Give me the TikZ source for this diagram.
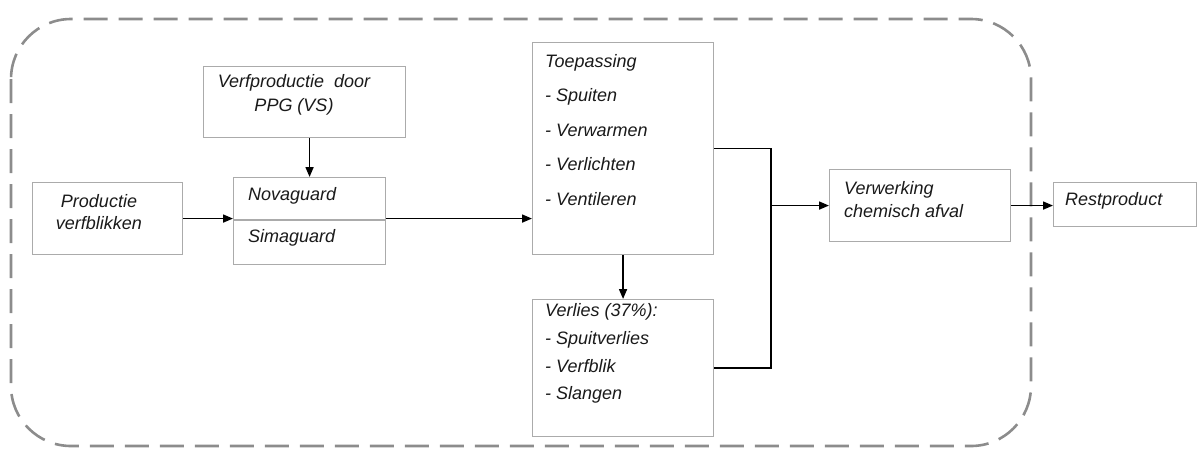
\documentclass[tikz,border=0pt]{standalone}
\usepackage{fontspec}
\setmainfont{Liberation Sans}
\usetikzlibrary{arrows.meta}
\definecolor{boxgray}{HTML}{ABABAB}
\definecolor{dashgray}{HTML}{8C8C8C}
\definecolor{txt}{HTML}{1A1A1A}
\begin{document}
\begin{tikzpicture}[x=1pt,y=-1pt,
  box/.style={draw=boxgray,line width=1.1pt,inner sep=0pt,anchor=north west,fill=white},
  lbl/.style={inner sep=0pt,text=txt,font=\fontsize{18}{22}\selectfont\itshape},
  arr/.style={line width=1.7pt,-{Triangle[length=10pt,width=8pt]}},
  con/.style={line width=1.7pt},
  border/.style={draw=dashgray,line width=2.6pt,dash pattern=on 24pt off 11pt,rounded corners=60pt}]
\useasboundingbox (0,0) rectangle (1201,448);
\draw[border] (11,19) rectangle (1031,446);
% boxes
\node[box,minimum width=150pt,minimum height=72pt] (prod) at (32,182) {};
\node[box,minimum width=202pt,minimum height=71pt] (ppg) at (203,66) {};
\node[box,minimum width=152pt,minimum height=87pt] (nova) at (233,177) {};
\draw[draw=boxgray,line width=1.1pt] (nova.west |- 0,220) coordinate (ndl) -- (nova.east |- 0,220) coordinate (ndr);
\node[box,minimum width=181pt,minimum height=212pt] (toep) at (532,42) {};
\node[box,minimum width=181pt,minimum height=137pt] (verl) at (532,299) {};
\node[box,minimum width=181pt,minimum height=72pt] (verw) at (829,169) {};
\node[box,minimum width=143pt,minimum height=44pt] (rest) at (1053,182) {};
% texts
\node[lbl,align=center] (prodt) at (99,212) {Productie\\verfblikken};
\node[lbl,align=center,font=\fontsize{18}{24}\selectfont\itshape] (ppgt) at (294,95) {Verfproductie\ \ door\\PPG (VS)};
\node[lbl,anchor=west] (novat) at (248,196) {Novaguard};
\node[lbl,anchor=west] (simat) at (248,238) {Simaguard};
\node[lbl,anchor=west,align=left,font=\fontsize{18}{34.5}\selectfont\itshape] (toept) at (545,130) {Toepassing\\- Spuiten\\- Verwarmen\\- Verlichten\\- Ventileren};
\node[lbl,anchor=west,align=left,font=\fontsize{18}{27.7}\selectfont\itshape] (verlt) at (545,353.5) {Verlies (37\%):\\- Spuitverlies\\- Verfblik\\- Slangen};
\node[lbl,anchor=west,align=left,font=\fontsize{18}{23}\selectfont\itshape] (verwt) at (844,200) {Verwerking\\chemisch afval};
\node[lbl,anchor=west] (restt) at (1065,201) {Restproduct};
% connectors
\coordinate (j) at (771,205);
\draw[arr] (nova.north |- ppg.south) -- (nova.north);
\draw[arr] (prod.east) -- (prod.east -| nova.west);
\draw[arr] (prod.east -| nova.east) -- (prod.east -| toep.west);
\draw[arr] (toep.south) -- (verl.north);
\draw[con] (toep.east) -- (toep.east -| j) -- (verl.east -| j) -- (verl.east);
\draw[arr] (verw.west -| j) -- (verw.west);
\draw[arr] (verw.east) -- (verw.east -| rest.west);
\end{tikzpicture}
\end{document}
